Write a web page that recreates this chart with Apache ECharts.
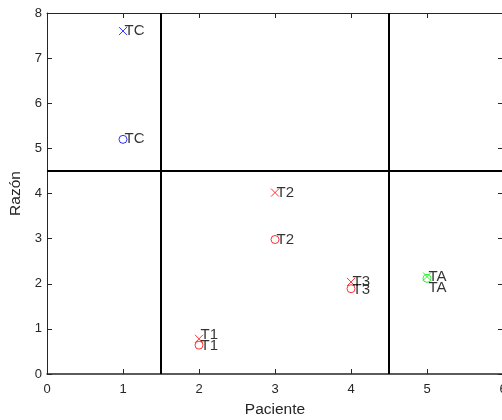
<!DOCTYPE html>
<html><head><meta charset="utf-8">
<script src="https://cdn.jsdelivr.net/npm/echarts@6/dist/echarts.min.js"></script>
<style>html,body{margin:0;padding:0;background:#fff;overflow:hidden}#c{width:502px;height:420px}</style>
</head><body><div id="c"></div>
<script>
// Data
const labels = ['TC', 'T1', 'T2', 'T3', 'TA'];
const paciente = [1, 2, 3, 4, 5];
const razonCross = [7.6, 0.78, 4.02, 2.04, 2.16];
const razonCircle = [5.2, 0.64, 2.98, 1.89, 2.12];
const pointColors = ['#0000ff', '#ff0000', '#ff0000', '#ff0000', '#00ee00'];
const xTicks = [0, 1, 2, 3, 4, 5, 6];
const yTicks = [0, 1, 2, 3, 4, 5, 6, 7, 8];
const vLines = [1.5, 4.5];
const hLines = [4.5];

const font = 'Liberation Sans, Arial, sans-serif';
const crossPath = 'path://M0,0L10,10M10,0L0,10';
// vertical label nudges (style only)
const crossLabelNudge = {'T1': -4};
const circleLabelNudge = {'TA': 10, 'T1': 1, 'T3': 1};

function pts(vals, nudge) {
  return paciente.map((x, i) => ({
    value: [x, vals[i]],
    name: labels[i],
    itemStyle: {borderColor: pointColors[i], color: 'transparent'},
    label: {offset: [-3, (nudge[labels[i]] || 0)]}
  }));
}

const chart = echarts.init(document.getElementById('c'));
function axisStyle(w) {
  return {
    axisLine: {show: true, onZero: false, lineStyle: {color: '#262626', width: w}},
    axisTick: {show: true, inside: true, length: 5, lineStyle: {color: '#262626'}},
    splitLine: {show: false}
  };
}
const series = [];
vLines.forEach(v => series.push({
  type: 'line', data: [[v, yTicks[0]], [v, yTicks[yTicks.length - 1]]],
  symbol: 'none', lineStyle: {color: '#000', width: 2}, silent: true, z: 1
}));
hLines.forEach(h => series.push({
  type: 'line', data: [[xTicks[0], h], [xTicks[xTicks.length - 1], h]],
  symbol: 'none', lineStyle: {color: '#000', width: 2}, silent: true, z: 1
}));
const labelStyle = {show: true, position: 'right', distance: 0, formatter: p => p.name,
  color: '#000', fontSize: 15, fontFamily: font};
series.push({
  type: 'scatter', symbol: crossPath, symbolSize: 8,
  data: pts(razonCross, crossLabelNudge),
  itemStyle: {borderWidth: 1},
  label: labelStyle, z: 3
});
series.push({
  type: 'scatter', symbol: 'circle', symbolSize: 8,
  data: pts(razonCircle, circleLabelNudge),
  itemStyle: {borderWidth: 1},
  label: labelStyle, z: 3
});

chart.setOption({
  animation: false,
  grid: {left: 47, top: 13, width: 456, height: 361, outerBoundsMode: 'none', containLabel: false},
  xAxis: [
    Object.assign({type: 'value', min: 0, max: 6, interval: 1, name: 'Paciente',
      nameLocation: 'middle', nameGap: 28,
      nameTextStyle: {fontSize: 15.5, color: '#262626', fontFamily: font},
      axisLabel: {fontSize: 13, color: '#262626', fontFamily: font, margin: 9}}, axisStyle(1.5)),
    Object.assign({type: 'value', min: 0, max: 6, interval: 1, position: 'top',
      axisLabel: {show: false}}, axisStyle(1))
  ],
  yAxis: [
    Object.assign({type: 'value', min: 0, max: 8, interval: 1, name: 'Razón',
      nameLocation: 'middle', nameGap: 15,
      nameTextStyle: {fontSize: 15.5, color: '#262626', fontFamily: font},
      axisLabel: {fontSize: 13, color: '#262626', fontFamily: font, margin: 5}}, axisStyle(1)),
    Object.assign({type: 'value', min: 0, max: 8, interval: 1, position: 'right',
      axisLabel: {show: false}}, axisStyle(1))
  ],
  series: series
});
</script></body></html>
